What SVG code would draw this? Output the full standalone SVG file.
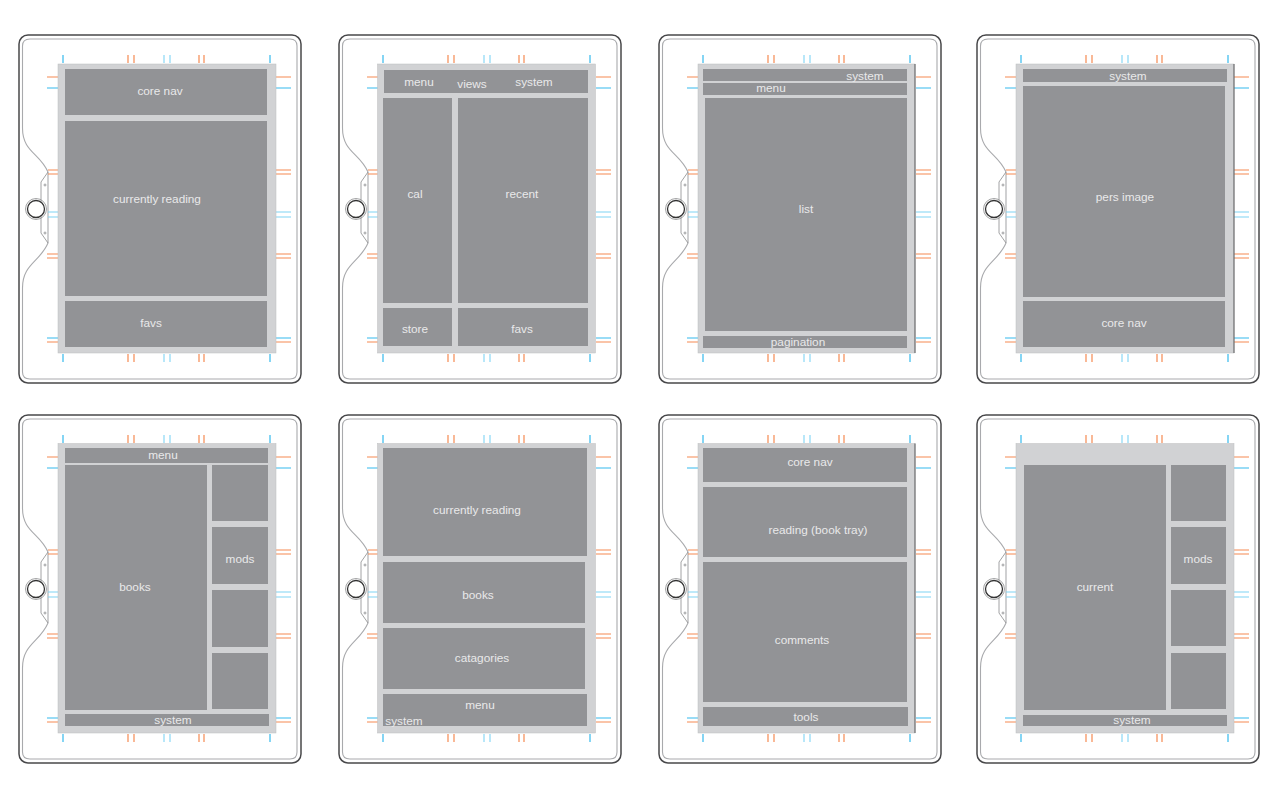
<svg xmlns="http://www.w3.org/2000/svg" width="1280" height="800" viewBox="0 0 1280 800">
<style>
.o{fill:none;stroke:#48484a;stroke-width:1.500}
.i{fill:none;stroke:#a9aaad;stroke-width:1.100}
.k{fill:none;stroke:#8a8b8d;stroke-width:.8}
.s{fill:#d1d2d4;stroke:#bdbec0;stroke-width:.5}
.p{fill:#929396}
.to{stroke:#f58a52;stroke-width:1.200;fill:none}
.tb{stroke:#35b9ed;stroke-width:1.200;fill:none}
.tl{stroke:#7fd4f4;stroke-width:1.100;fill:none}
.e{stroke:#58595b;stroke-width:1;fill:none}
text{font-family:"Liberation Sans",Arial,sans-serif;font-size:11.800px;fill:#e9e9ea;text-anchor:middle}
</style>
<defs>
<g id="device">
<rect class="o" x="19" y="35" width="282" height="348" rx="9"/>
<path class="i" d="M22.500 128V46Q22.500 39 30 39H290Q297 39 297 46V372Q297 379 290 379H30Q22.500 379 22.500 372V288C22.500 264 40 262 48 243V172C40 153 22.500 152 22.500 128Z"/>
<path class="k" d="M48 172L41 182V233L48 243"/>
<circle class="k" cx="36" cy="209" r="10.500"/>
<circle cx="36" cy="209" r="8.500" fill="#fff" stroke="#333" stroke-width="1.300"/>
<circle class="k" cx="45" cy="185" r="1"/>
<circle class="k" cx="45" cy="233" r="1"/>
<path class="tb" d="M63 55v8M270 55v8M63 354v8M270 354v8M47 88h11M276 88h15M47 338h11M276 338h15"/>
<path class="tl" d="M164 55v8M170 55v8M164 354v8M170 354v8M48 212h10M48 217h10M276 212h15M276 217h15"/>
<path class="to" d="M128 55v8M134 55v8M199 55v8M204 55v8M128 354v8M134 354v8M199 354v8M204 354v8M47 77h11M276 77h15M48 170h10M48 174h10M276 170h15M276 174h15M47 254h11M47 258h11M276 254h15M276 258h15M47 342h11M276 342h15"/>
</g>
</defs>
<rect width="1280" height="800" fill="#fff"/>
<g id="connectors"/>
<g id="d1"><use href="#device"/>
<rect class="s" x="58" y="64" width="218" height="289"/>
<rect class="p" x="65" y="69" width="202" height="46"/><rect class="p" x="65" y="121" width="202" height="175"/><rect class="p" x="65" y="301" width="202" height="46"/>
<text x="160" y="95">core nav</text><text x="157" y="203">currently reading</text><text x="151" y="327">favs</text></g>
<g id="d2"><use href="#device" x="320"/>
<rect class="s" x="377.500" y="64" width="218" height="289"/>
<rect class="p" x="384" y="70" width="204" height="23"/><rect class="p" x="383" y="98" width="69" height="205"/><rect class="p" x="458" y="98" width="130" height="205"/><rect class="p" x="383" y="308" width="69" height="38"/><rect class="p" x="458" y="308" width="130" height="38"/>
<text x="419" y="86">menu</text><text x="472" y="88">views</text><text x="534" y="86">system</text><text x="415" y="198">cal</text><text x="522" y="198">recent</text><text x="415" y="333">store</text><text x="522" y="333">favs</text></g>
<g id="d3"><use href="#device" x="640"/>
<rect class="s" x="698" y="64" width="217" height="289"/>
<path class="e" d="M915 64V353"/>
<rect class="p" x="703" y="69" width="204" height="12"/><rect class="p" x="703" y="83" width="204" height="12"/><rect class="p" x="705" y="98" width="202" height="233"/><rect class="p" x="703" y="336" width="204" height="12"/>
<text x="865" y="80">system</text><text x="771" y="92">menu</text><text x="806" y="213">list</text><text x="798" y="346">pagination</text></g>
<g id="d4"><use href="#device" x="958"/>
<rect class="s" x="1016" y="64" width="218" height="289"/>
<path class="e" d="M1234 64V353"/>
<rect class="p" x="1023" y="69" width="204" height="13"/><rect class="p" x="1023" y="86" width="202" height="211"/><rect class="p" x="1023" y="301" width="202" height="46"/>
<text x="1128" y="80">system</text><text x="1125" y="201">pers image</text><text x="1124" y="327">core nav</text></g>
<g id="d5"><use href="#device" y="380"/>
<rect class="s" x="58" y="443.500" width="218" height="289.500"/>
<rect class="p" x="65" y="448" width="203" height="15"/><rect class="p" x="65" y="465" width="142" height="245"/><rect class="p" x="212" y="465" width="56" height="56"/><rect class="p" x="212" y="527" width="56" height="57"/><rect class="p" x="212" y="590" width="56" height="57"/><rect class="p" x="212" y="653" width="56" height="56"/><rect class="p" x="65" y="714" width="204" height="12"/>
<text x="163" y="459">menu</text><text x="135" y="591">books</text><text x="240" y="563">mods</text><text x="173" y="724">system</text></g>
<g id="d6"><use href="#device" x="320" y="380"/>
<rect class="s" x="377.500" y="443.500" width="218" height="289.500"/>
<rect class="p" x="383" y="448" width="204" height="108"/><rect class="p" x="383" y="562" width="202" height="61"/><rect class="p" x="383" y="628" width="202" height="61"/><rect class="p" x="383" y="694" width="204" height="32"/>
<text x="477" y="514">currently reading</text><text x="478" y="599">books</text><text x="482" y="662">catagories</text><text x="480" y="709">menu</text><text x="404" y="725">system</text></g>
<g id="d7"><use href="#device" x="640" y="380"/>
<rect class="s" x="698" y="443.500" width="217" height="289.500"/>
<path class="e" d="M915 443.500V733"/>
<rect class="p" x="703" y="448" width="204" height="34"/><rect class="p" x="703" y="487" width="204" height="70"/><rect class="p" x="703" y="562" width="204" height="140"/><rect class="p" x="703" y="707" width="205" height="19"/>
<text x="810" y="466">core nav</text><text x="818" y="534">reading (book tray)</text><text x="802" y="644">comments</text><text x="806" y="721">tools</text></g>
<g id="d8"><use href="#device" x="958" y="380"/>
<rect class="s" x="1016" y="443.500" width="218" height="289.500"/>
<rect class="p" x="1024" y="465" width="142" height="245"/><rect class="p" x="1171" y="465" width="55" height="56"/><rect class="p" x="1171" y="527" width="55" height="57"/><rect class="p" x="1171" y="590" width="55" height="56"/><rect class="p" x="1171" y="653" width="55" height="56"/><rect class="p" x="1023" y="715" width="204" height="11"/>
<text x="1095" y="591">current</text><text x="1198" y="563">mods</text><text x="1132" y="724">system</text></g>
</svg>
